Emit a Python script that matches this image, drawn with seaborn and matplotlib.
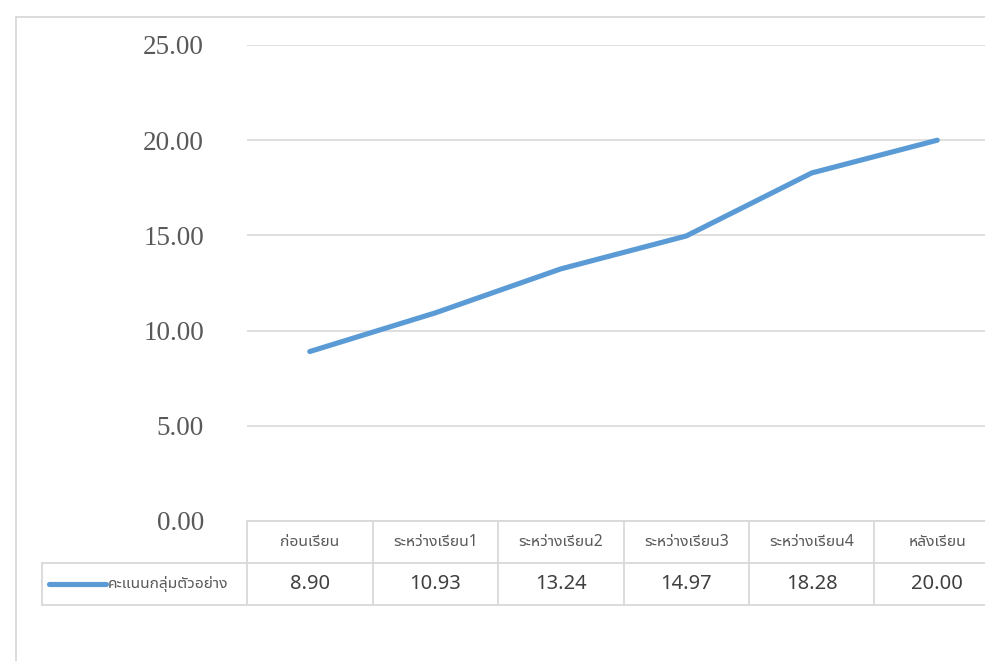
import matplotlib
matplotlib.use("Agg")
import matplotlib.pyplot as plt
import matplotlib.transforms as mtransforms
from matplotlib.lines import Line2D
import seaborn as sns
import pandas as pd

# data
stages = ["ก่อนเรียน", "ระหว่างเรียน1", "ระหว่างเรียน2", "ระหว่างเรียน3", "ระหว่างเรียน4", "หลังเรียน"]
scores = [8.90, 10.93, 13.24, 14.97, 18.28, 20.00]
series_name = "คะแนนกลุ่มตัวอย่าง"
y_ticks = [0, 5, 10, 15, 20, 25]

LINE_COLOR = "#5B9BD5"
GRID_COLOR = "#D9D9D9"
TEXT_COLOR = "#595959"
THAI = ["Noto Sans Thai UI", "Noto Sans Thai", "DejaVu Sans"]


def main():
    sns.set_theme(style="white")
    plt.rcParams["font.family"] = THAI

    df = pd.DataFrame({"stage": stages, "score": scores})
    df["pos"] = range(len(df))

    fig = plt.figure(figsize=(9.85, 6.61), dpi=100)
    ax = fig.add_axes([247 / 985, 1 - 521 / 661, 753 / 985, 476 / 661])

    sns.lineplot(data=df, x="pos", y="score", color=LINE_COLOR, linewidth=3.7,
                 ax=ax, solid_capstyle="round", solid_joinstyle="round")

    ax.set_xlim(-0.5, len(stages) - 0.5)
    ax.set_ylim(0, 25)
    ax.set_yticks(y_ticks)
    ax.set_yticklabels([f"{v:.2f}" for v in y_ticks], fontfamily="Liberation Serif",
                       fontsize=19.5, color=TEXT_COLOR)
    ax.tick_params(axis="y", length=0, pad=31)
    ax.set_xticks([])
    ax.set_xlabel("")
    ax.set_ylabel("")
    ax.grid(axis="y", color=GRID_COLOR, linewidth=1.2)
    ax.set_axisbelow(True)
    for s in ax.spines.values():
        s.set_visible(False)

    # data table under the axes
    trans = mtransforms.blended_transform_factory(ax.transData, ax.transAxes)
    row_h = 42 / 476
    left_x = -0.5 - 205 / 125.5
    n = len(stages)
    lw = 1.3
    # horizontal lines
    ax.add_line(Line2D([-0.5, n - 0.5], [0, 0], transform=trans, color=GRID_COLOR, lw=lw, clip_on=False))
    for yy in (-row_h, -2 * row_h):
        ax.add_line(Line2D([left_x, n - 0.5], [yy, yy], transform=trans, color=GRID_COLOR, lw=lw, clip_on=False))
    # vertical lines
    ax.add_line(Line2D([left_x, left_x], [-row_h, -2 * row_h], transform=trans, color=GRID_COLOR, lw=lw, clip_on=False))
    for i in range(n + 1):
        xx = i - 0.5
        ax.add_line(Line2D([xx, xx], [0, -2 * row_h], transform=trans, color=GRID_COLOR, lw=lw, clip_on=False))

    for i, (lab, val) in enumerate(zip(stages, scores)):
        ax.text(i, -row_h / 2, lab, transform=trans, ha="center", va="center",
                fontsize=11.3, color=TEXT_COLOR, family=THAI)
        ax.text(i, -1.5 * row_h, f"{val:.2f}", transform=trans, ha="center", va="center",
                fontsize=14.5, color="#404040", family=THAI)

    # legend key in the table
    ax.add_line(Line2D([left_x + 7 / 125.5, left_x + 64 / 125.5], [-1.5 * row_h] * 2, transform=trans,
                       color=LINE_COLOR, lw=3.7, solid_capstyle="round", clip_on=False))
    ax.text(left_x + 66 / 125.5, -1.5 * row_h, series_name, transform=trans, ha="left", va="center",
            fontsize=11.2, color=TEXT_COLOR, family=THAI)

    # outer chart frame
    fig.add_artist(Line2D([16 / 985, 16 / 985], [0, 1 - 17 / 661], transform=fig.transFigure,
                          color=GRID_COLOR, lw=1.3))
    fig.add_artist(Line2D([16 / 985, 1], [1 - 17 / 661] * 2, transform=fig.transFigure,
                          color=GRID_COLOR, lw=1.3))

    fig.savefig("out.png", dpi=100)


if __name__ == "__main__":
    main()
